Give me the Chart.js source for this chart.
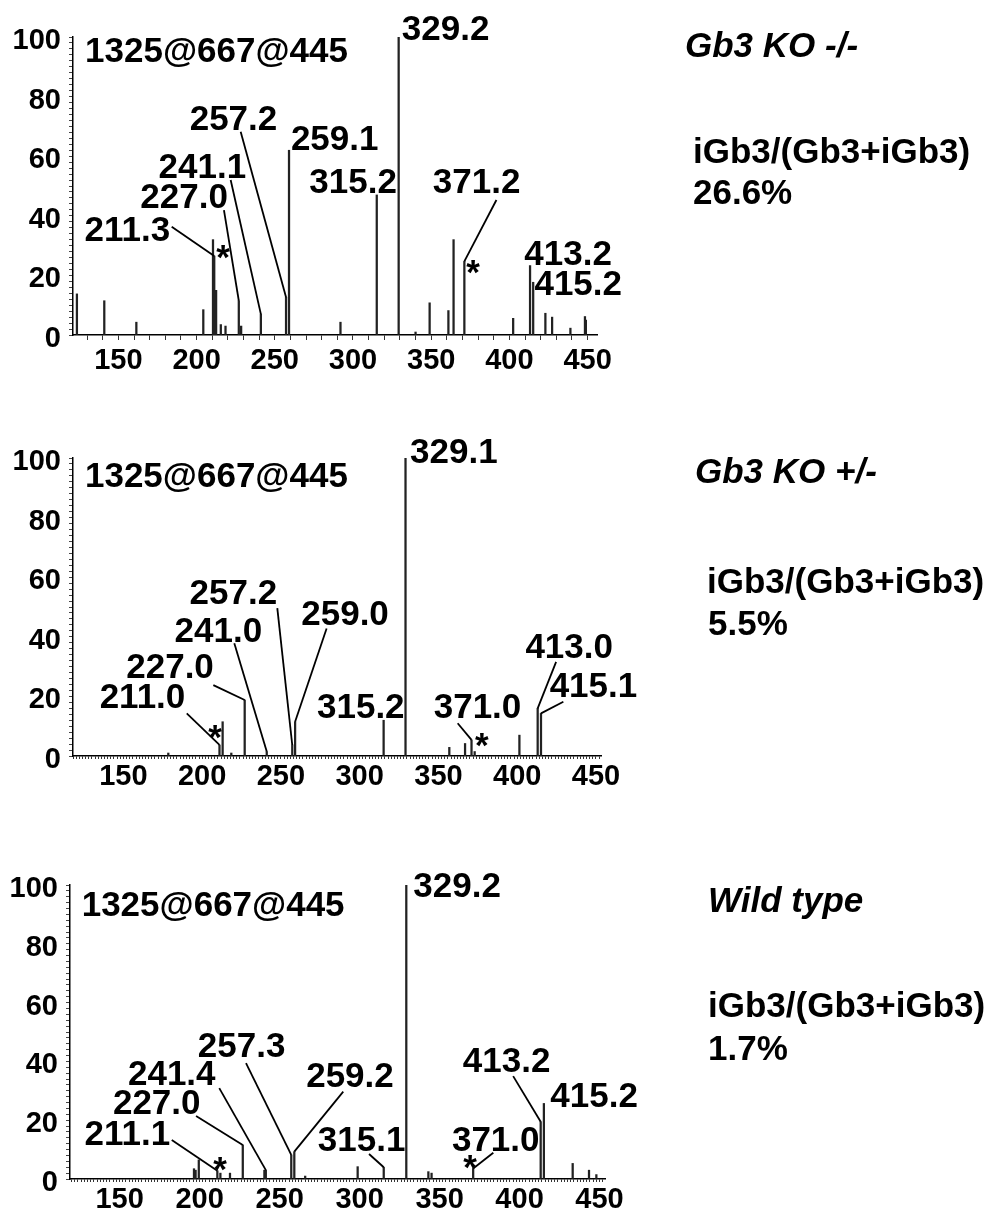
<!DOCTYPE html>
<html>
<head>
<meta charset="utf-8">
<script src="https://cdn.jsdelivr.net/npm/chart.js@4.4.1/dist/chart.umd.min.js"></script>
<style>
html, body { margin: 0; padding: 0; background: #fff; overflow: hidden; }
.panel { position: absolute; left: 0; width: 991px; }
</style>
</head>
<body>
<div class="panel" style="top:0;height:410px"><canvas id="c1"></canvas></div>
<div class="panel" style="top:420px;height:410px"><canvas id="c2"></canvas></div>
<div class="panel" style="top:840px;height:369px"><canvas id="c3"></canvas></div>
<script>
const yTicks = [0, 20, 40, 60, 80, 100];
const xTicks = [150, 200, 250, 300, 350, 400, 450];
const precursor = '1325@667@445';
const genotypes = ['Gb3 KO -/-', 'Gb3 KO +/-', 'Wild type'];
const ratioLabel = 'iGb3/(Gb3+iGb3)';
const ratios = ['26.6%', '5.5%', '1.7%'];

// Gb3 KO -/-
const mzKO = [123.5, 141, 161.5, 204.3, 210.5, 211.3, 212.5, 215.5, 218.5, 227.0, 228.5, 241.1, 257.2, 259.1,
  292, 315.2, 329.2, 340, 349, 361, 364.3, 371.2, 402.4, 413.2, 415.2, 423, 427.3, 439, 448.3, 448.9];
const intKO = [13.8, 11.5, 4.3, 8.5, 32, 26.5, 15, 3.5, 3, 11.5, 3, 7, 12.7, 62,
  4.3, 47, 100, 1, 10.8, 8.2, 32, 24.7, 5.6, 23.3, 17.7, 7.3, 6, 2.3, 6.2, 5];

// Gb3 KO +/-
const mzHet = [178.5, 211.0, 213, 218.5, 227.0, 241.0, 257.2, 259.0, 315.2, 329.1, 356.9, 366.9, 371.0, 373, 401.4, 413.0, 415.1];
const intHet = [1, 3.7, 11.5, 1, 18.8, 1.5, 3.7, 11.5, 12, 100, 2.9, 4.2, 5.4, 1.5, 7, 16, 14.3];

// Wild type
const mzWT = [196.5, 197.5, 199.5, 211.1, 213, 219, 227.0, 240.5, 241.4, 257.3, 259.2, 266, 298.8, 315.1, 329.2,
  343, 345, 371.0, 413.2, 415.2, 433.2, 443.4, 448];
const intWT = [3.5, 3, 6.5, 2.8, 2, 2, 11.6, 3, 3, 8.2, 9.3, 1, 4.2, 4, 100,
  2.5, 2, 3.6, 19.5, 25.7, 5.3, 3, 1.5];

// peak labels: text position and leader start in data units
const notesKO = [
  {t: '329.2', x: 331.2, y: 99.0, align: 'left'},
  {t: '259.1', x: 260.3, y: 62.1, align: 'left'},
  {t: '315.2', x: 300.1, y: 47.7},
  {t: '257.2', x: 223.6, y: 68.8, from: [228.2, 68.2], peak: 257.2},
  {t: '241.1', x: 203.7, y: 52.7, from: [221.8, 52.0], peak: 241.1},
  {t: '227.0', x: 192.0, y: 42.5, from: [217.5, 41.9], peak: 227.0},
  {t: '211.3', x: 155.8, y: 31.6, from: [184.1, 36.3], peak: 211.3},
  {t: '371.2', x: 379.0, y: 47.6, from: [391.7, 45.3], peak: 371.2},
  {t: '413.2', x: 437.5, y: 23.5},
  {t: '415.2', x: 444.0, y: 13.4}
];
const notesHet = [
  {t: '329.1', x: 332.0, y: 98.2, align: 'left'},
  {t: '257.2', x: 219.8, y: 50.9, from: [247.7, 49.6], peak: 257.2},
  {t: '259.0', x: 290.7, y: 44.0, from: [279.0, 42.8], peak: 259.0},
  {t: '241.0', x: 210.3, y: 38.4, from: [220.4, 37.8], peak: 241.0},
  {t: '227.0', x: 179.6, y: 26.1, from: [207.1, 23.8], peak: 227.0},
  {t: '211.0', x: 162.1, y: 16.0, from: [190.2, 14.3], peak: 211.0},
  {t: '315.2', x: 300.7, y: 12.7},
  {t: '371.0', x: 374.8, y: 12.7, from: [362.2, 11.0], peak: 371.0},
  {t: '413.0', x: 433.0, y: 32.8, from: [424.7, 31.6], peak: 413.0},
  {t: '415.1', x: 448.4, y: 19.9, from: [429.3, 18.2], peak: 415.1}
];
const notesWT = [
  {t: '329.2', x: 333.6, y: 96.0, align: 'left'},
  {t: '257.3', x: 226.3, y: 41.6, from: [229.0, 39.4], peak: 257.3},
  {t: '241.4', x: 182.6, y: 32.0, from: [212.3, 30.9], peak: 241.4},
  {t: '227.0', x: 173.2, y: 22.1, from: [197.8, 21.4], peak: 227.0},
  {t: '211.1', x: 154.9, y: 11.6, from: [182.6, 13.3], peak: 211.1},
  {t: '259.2', x: 294.0, y: 31.4, from: [289.8, 29.7], peak: 259.2},
  {t: '315.1', x: 301.3, y: 9.6, from: [305.9, 8.5], peak: 315.1},
  {t: '371.0', x: 385.1, y: 9.6, from: [383.6, 8.9], peak: 371.0},
  {t: '413.2', x: 391.9, y: 36.5, from: [396.0, 35.0], peak: 413.2},
  {t: '415.2', x: 446.6, y: 24.6}
];
const starsKO = [[217, 22.1], [376.8, 17.1]];
const starsHet = [[208.2, 2.3], [377.5, -0.3]];
const starsWT = [[212.8, -0.6], [369.0, 0]];

const FONT = '"Liberation Sans", Arial, sans-serif';

function steps(min, max, step) {
  const out = [];
  for (let v = Math.ceil(min / step) * step; v <= max; v += step) out.push({value: v});
  return out;
}

const notesPlugin = {
  id: 'notes',
  afterDatasetsDraw(chart, args, o) {
    const ctx = chart.ctx;
    const x = chart.scales.x, y = chart.scales.y;
    const pts = chart.data.datasets[0].data;
    ctx.save();
    ctx.fillStyle = '#000';
    ctx.strokeStyle = '#000';
    ctx.lineWidth = 1.8;
    ctx.textBaseline = 'alphabetic';
    ctx.font = 'bold 35px ' + FONT;
    ctx.textAlign = 'left';
    ctx.fillText(precursor, x.getPixelForValue(o.head[0]), y.getPixelForValue(o.head[1]));
    o.labels.forEach(n => {
      ctx.textAlign = n.align || 'center';
      ctx.fillText(n.t, x.getPixelForValue(n.x), y.getPixelForValue(n.y));
      if (n.from) {
        const p = pts.find(d => d.x === n.peak);
        ctx.beginPath();
        ctx.moveTo(x.getPixelForValue(n.from[0]), y.getPixelForValue(n.from[1]));
        ctx.lineTo(x.getPixelForValue(p.x), y.getPixelForValue(p.y));
        ctx.stroke();
      }
    });
    ctx.textAlign = 'center';
    o.stars.forEach(s => ctx.fillText('*', x.getPixelForValue(s[0]), y.getPixelForValue(s[1])));
    // genotype and ratio on the right
    ctx.textAlign = 'left';
    ctx.font = 'italic bold 35px ' + FONT;
    ctx.fillText(genotypes[o.i], o.side[0][0], o.side[0][1]);
    ctx.font = 'bold 35px ' + FONT;
    ctx.fillText(ratioLabel, o.side[1][0], o.side[1][1]);
    ctx.fillText(ratios[o.i], o.side[2][0], o.side[2][1]);
    ctx.restore();
  }
};

function makeChart(id, i, mz, inten, range, box, labels, stars, head, side) {
  new Chart(document.getElementById(id), {
    type: 'bar',
    data: {
      datasets: [{
        data: mz.map((m, k) => ({x: m, y: inten[k]})),
        backgroundColor: '#222',
        borderWidth: 0,
        barThickness: 1.6
      }]
    },
    options: {
      responsive: true,
      maintainAspectRatio: false,
      animation: false,
      layout: {padding: box.pad},
      plugins: {
        legend: {display: false},
        tooltip: {enabled: false},
        notes: {i: i, labels: labels, stars: stars, head: head, side: side}
      },
      scales: {
        x: {
          type: 'linear',
          min: range[0],
          max: range[1],
          offset: false,
          afterFit: s => { s.height = box.xh; },
          afterBuildTicks: s => { s.ticks = steps(range[0], range[1], box.xStep); },
          ticks: {
            autoSkip: false, maxRotation: 0, padding: box.xPad, color: '#000',
            font: {family: FONT, size: 29, weight: 'bold'},
            callback: v => xTicks.includes(v) ? String(v) : ''
          },
          grid: {offset: false, drawOnChartArea: false, tickLength: box.xTl, color: '#333', lineWidth: 1},
          border: {color: '#000', width: 1.5}
        },
        y: {
          min: 0,
          max: 100,
          afterFit: s => { s.width = 63; },
          afterBuildTicks: s => { s.ticks = steps(0, 100, 2); },
          ticks: {
            autoSkip: false, padding: 8, labelOffset: 4, color: '#000',
            font: {family: FONT, size: 29, weight: 'bold'},
            callback: v => yTicks.includes(v) ? String(v) : ''
          },
          grid: {drawOnChartArea: false, tickLength: 4, color: '#444', lineWidth: 1},
          border: {color: '#000', width: 1.5}
        }
      }
    },
    plugins: [notesPlugin]
  });
}

makeChart('c1', 0, mzKO, intKO, [121, 456],
  {pad: {left: 10, right: 394, top: 37, bottom: 0}, xh: 75, xStep: 10, xTl: 5, xPad: 4},
  notesKO, starsKO, [128.7, 91.6], [[685, 57], [693, 163], [693, 204]]);
makeChart('c2', 1, mzHet, intHet, [118, 453.2],
  {pad: {left: 10, right: 390, top: 38, bottom: 0}, xh: 74, xStep: 2, xTl: 3, xPad: 1},
  notesHet, starsHet, [125.6, 90.4], [[695, 63], [707, 173], [708, 215]]);
makeChart('c3', 2, mzWT, intWT, [119, 453.4],
  {pad: {left: 7, right: 386, top: 45, bottom: 0}, xh: 30, xStep: 2, xTl: 3, xPad: 1},
  notesWT, starsWT, [126.3, 89.5], [[708, 72], [708, 177], [708, 220]]);
</script>
</body>
</html>
